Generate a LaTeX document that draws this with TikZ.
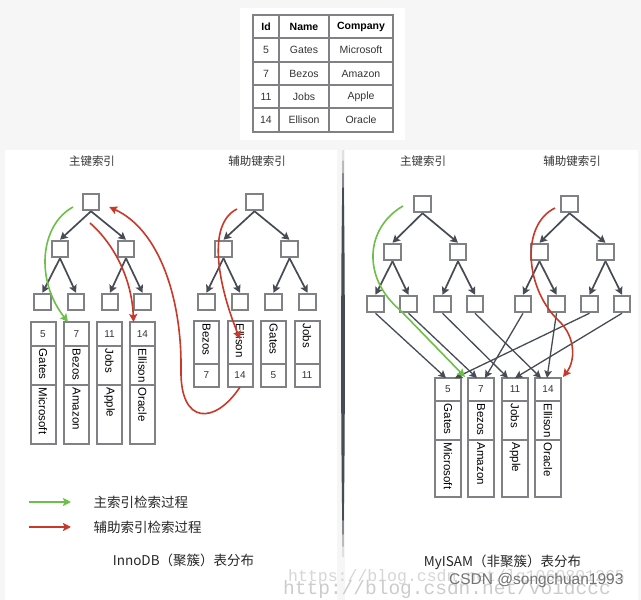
\documentclass[tikz,border=0pt]{standalone}
\usepackage{fontspec}
\setmainfont{Liberation Sans}
\newfontfamily\cjk{Noto Sans CJK SC}
\newfontfamily\wmark{Liberation Mono}
\usetikzlibrary{arrows.meta}

\definecolor{boxgray}{HTML}{7F8185}
\definecolor{arrgray}{HTML}{474C54}
\definecolor{hitgreen}{HTML}{6CBF47}
\definecolor{hitred}{HTML}{C9392A}
\definecolor{pagebg}{HTML}{F6F6F6}

\tikzset{
  keybox/.style={draw=boxgray, line width=2pt, fill=white, minimum size=16.5pt, inner sep=0pt},
  cellbox/.style={draw=boxgray, line width=2pt, fill=white, minimum width=25pt, inner sep=0pt, outer sep=0pt, anchor=north, font=\fontsize{10}{10}\selectfont, text=black!80},
  vtext/.style={rotate=-90, anchor=west, inner sep=0pt, font=\fontsize{11.5}{11.5}\selectfont},
  treearr/.style={arrgray, line width=1.7pt, -{Stealth[length=7.5pt, width=8pt, inset=1.5pt]}},
  rowarr/.style={arrgray, line width=1.3pt, -{Stealth[length=7.5pt, width=7.5pt, inset=1.5pt]}},
  greenarr/.style={hitgreen, line width=1.6pt, -{Stealth[length=8pt, width=8pt, inset=1.5pt]}},
  redarr/.style={hitred, line width=1.6pt, -{Stealth[length=8pt, width=8pt, inset=1.5pt]}},
  paneltitle/.style={font=\cjk\fontsize{11.5}{11.5}\selectfont, text=black!80},
  legendtext/.style={font=\cjk\fontsize{13.5}{13.5}\selectfont, anchor=west, text=black!85},
  enginetext/.style={font=\cjk\fontsize{13.5}{13.5}\selectfont, text=black!85},
}

\begin{document}
\begin{tikzpicture}[x=1pt, y=-1pt]
  \useasboundingbox (0,0) rectangle (641,600);
  \fill[pagebg] (0,0) rectangle (641,600);

  % panels
  \fill[white] (240,8) rectangle (405,140);
  \fill[white] (5,150) rectangle (337,600);
  \fill[white] (345,150) rectangle (638,600);
  \fill[arrgray] (343,150) .. controls (345.5,250) and (345.5,460) .. (343,557)
    .. controls (340.5,460) and (340.5,250) .. (343,150);

  % table
  \begin{scope}[boxgray, line width=2pt]
    \draw (253,15) rectangle (393,132);
    \foreach \x in {279,329} \draw (\x,15) -- (\x,132);
    \foreach \y in {38,62,85,108} \draw (253,\y) -- (393,\y);
  \end{scope}
  \begin{scope}[font=\fontsize{10.5}{10.5}\selectfont]
    \node[font=\bfseries\fontsize{10.5}{10.5}\selectfont] at (266,26.5) {Id};
    \node[font=\bfseries\fontsize{10.5}{10.5}\selectfont] at (304,26.5) {Name};
    \node[font=\bfseries\fontsize{10.5}{10.5}\selectfont] at (361,26.5) {Company};
    \foreach \y/\k/\nm/\co in {50/5/Gates/Microsoft, 73.5/7/Bezos/Amazon, 96.5/11/Jobs/Apple, 120/14/Ellison/Oracle} {
      \node[text=black!80] at (266,\y) {\k};
      \node[text=black!80] at (304,\y) {\nm};
      \node[text=black!80] at (361,\y) {\co};
    }
  \end{scope}

  % titles
  \node[paneltitle] (t1) at (92,161) {主键索引};
  \node[paneltitle] (t2) at (257,161) {辅助键索引};
  \node[paneltitle] (t3) at (423,161) {主键索引};
  \node[paneltitle] (t4) at (572,161) {辅助键索引};

  % InnoDB primary tree
  \node[keybox] (pr) at (91,202) {};
  \node[keybox] (pa) at (60,249) {};
  \node[keybox] (pb) at (126,249) {};
  \foreach \x [count=\i] in {42.5,76,110,142.5} \node[keybox] (pl\i) at (\x,302) {};

  % InnoDB secondary tree
  \node[keybox] (sr) at (254.5,202) {};
  \node[keybox] (sa) at (223.5,249) {};
  \node[keybox] (sb) at (289.5,249) {};
  \foreach \x [count=\i] in {206.5,240,273.5,307.5} \node[keybox] (sl\i) at (\x,302) {};

  % MyISAM primary tree
  \node[keybox] (qr) at (422.5,204) {};
  \node[keybox] (qa) at (392.5,252) {};
  \node[keybox] (qb) at (458,252) {};
  \foreach \x [count=\i] in {375.5,408.5,442.5,475} \node[keybox] (ql\i) at (\x,304) {};

  % MyISAM secondary tree
  \node[keybox] (tr) at (569.5,204) {};
  \node[keybox] (ta) at (539.5,252) {};
  \node[keybox] (tb) at (605.5,252) {};
  \foreach \x [count=\i] in {523,556.5,589.5,622} \node[keybox] (tl\i) at (\x,304) {};

  \foreach \u/\v in {pr/pa,pr/pb,pa/pl1,pa/pl2,pb/pl3,pb/pl4,
                     sr/sa,sr/sb,sa/sl1,sa/sl2,sb/sl3,sb/sl4,
                     qr/qa,qr/qb,qa/ql1,qa/ql2,qb/ql3,qb/ql4,
                     tr/ta,tr/tb,ta/tl1,ta/tl2,tb/tl3,tb/tl4}
    \draw[treearr] (\u.south) -- (\v.north);

  % InnoDB rows under the primary leaves
  \foreach \x/\k/\nm/\co [count=\i] in {43/5/Gates/Microsoft, 76.5/7/Bezos/Amazon, 109.5/11/Jobs/Apple, 142.5/14/Ellison/Oracle} {
    \node[cellbox, minimum height=24pt] (pk\i) at (\x,322) {\k};
    \node[cellbox, minimum height=39pt] (pn\i) at (pk\i.south) {};
    \node[cellbox, minimum height=59pt] (pc\i) at (pn\i.south) {};
    \node[vtext] at ([yshift=-2.5pt]pn\i.north) {\nm};
    \node[vtext] at ([yshift=-2.5pt]pc\i.north) {\co};
  }

  % InnoDB secondary entries
  \foreach \x/\k/\nm [count=\i] in {206.5/7/Bezos, 240/14/Ellison, 273.5/5/Gates, 307/11/Jobs} {
    \node[cellbox, minimum height=43pt] (sn\i) at (\x,321) {};
    \node[vtext] at ([yshift=-2.5pt]sn\i.north) {\nm};
    \node[cellbox, minimum height=23pt] (sk\i) at (sn\i.south) {\k};
  }

  % MyISAM rows
  \foreach \x/\k/\nm/\co [count=\i] in {448/5/Gates/Microsoft, 481/7/Bezos/Amazon, 515/11/Jobs/Apple, 548/14/Ellison/Oracle} {
    \node[cellbox, minimum width=26pt, minimum height=23pt] (mk\i) at (\x,378) {\k};
    \node[cellbox, minimum width=26pt, minimum height=39pt] (mn\i) at (mk\i.south) {};
    \node[cellbox, minimum width=26pt, minimum height=57pt] (mc\i) at (mn\i.south) {};
    \node[vtext] at ([yshift=-2.5pt]mn\i.north) {\nm};
    \node[vtext] at ([yshift=-2.5pt]mc\i.north) {\co};
  }

  % leaves point at the rows
  \draw[rowarr] (ql1.south) -- ([xshift=-2pt]mk1.north);
  \draw[rowarr] (ql2.south) -- ([xshift=-4pt]mk2.north);
  \draw[rowarr] (ql3.south) -- ([xshift=-7pt]mk3.north);
  \draw[rowarr] (ql4.south) -- ([xshift=-7pt]mk4.north);
  \draw[rowarr] (tl1.south) -- ([xshift=4pt]mk2.north);
  \draw[rowarr] (tl2.south) -- ([xshift=-1pt]mk4.north);
  \draw[rowarr] (tl3.south) -- ([xshift=7pt]mk1.north);
  \draw[rowarr] (tl4.south) -- ([xshift=0pt]mk3.north);

  % search paths
  \coordinate (g1) at (73,207);
  \coordinate (r1) at (90,223);
  \coordinate (r2) at (237,209);
  \coordinate (g2) at (403,206);
  \coordinate (r3) at (555,208);
  \draw[greenarr] (g1) .. controls (40,225) and (35,280) .. ([xshift=-8.5pt]pk2.north);
  \draw[redarr] (r1) .. controls (115,245) and (132,280) .. ([xshift=-9pt]pk4.north);
  \draw[redarr] (r2) .. controls (205,225) and (220,290) .. ([yshift=-18pt]sn2.north);
  \draw[redarr] (sk2.south) .. controls (215,425) and (180,425) .. (181,370)
    .. controls (182,300) and (160,230) .. ([shift={(9,5)}]pr.east);
  \draw[greenarr] (g2) .. controls (365,228) and (362,278) .. (400,310) -- ([shift={(-3,-1)}]mk2.north west);
  \draw[redarr] (r3) .. controls (520,225) and (525,290) .. (560,322)
    .. controls (575,337) and (576,360) .. ([shift={(2,-1)}]mk4.north east);

  % legend
  \coordinate (lg1) at (29,502);
  \coordinate (lg1e) at (71,502);
  \coordinate (lg2) at (29,527);
  \coordinate (lg2e) at (71,527);
  \draw[greenarr] (lg1) -- (lg1e);
  \draw[redarr] (lg2) -- (lg2e);
  \node[legendtext] (lt1) at (90,502) {主索引检索过程};
  \node[legendtext] (lt2) at (90,527) {辅助索引检索过程};

  \node[enginetext] (e1) at (183.5,560) {InnoDB（聚簇）表分布};
  \node[enginetext] (e2) at (502.5,562) {MyISAM（非聚簇）表分布};

  % watermarks
  \node[anchor=west, text=black!16, font=\wmark\fontsize{16.5}{16.5}\selectfont, inner sep=0pt] (w1) at (288,577) {https://blog.csdn.net/lq1060801265};
  \node[anchor=west, text=black!20, font=\wmark\fontsize{19.5}{19.5}\selectfont, inner sep=0pt] (w2) at (283,589) {http://blog.csdn.net/voidccc};
  \node[anchor=west, text=black!55, font=\fontsize{15.5}{15.5}\selectfont, inner sep=0pt] (w3) at (449,580) {CSDN @songchuan1993};
\end{tikzpicture}
\end{document}
